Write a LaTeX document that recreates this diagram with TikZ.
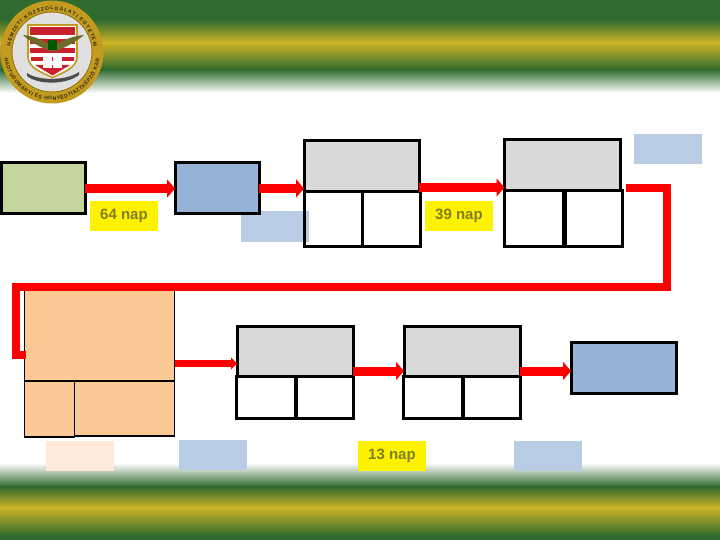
\documentclass[tikz,border=0pt]{standalone}
\usepackage{fontspec}
\setmainfont{Liberation Sans}
\usetikzlibrary{arrows.meta,decorations.text}
\definecolor{bandgreen}{HTML}{2F6A2E}
\definecolor{bandyellow}{HTML}{CDB526}
\definecolor{boxgreen}{HTML}{C3D69B}
\definecolor{boxblue}{HTML}{95B3D7}
\definecolor{boxgrey}{HTML}{D9D9D9}
\definecolor{boxorange}{HTML}{FCC995}
\definecolor{notebluepale}{HTML}{B8CCE4}
\definecolor{notepeach}{HTML}{FDEADA}
\definecolor{arrowred}{HTML}{FF0000}
\definecolor{daytext}{HTML}{808020}
\definecolor{logogold}{HTML}{C29A20}
\definecolor{logored}{HTML}{C8202C}
\definecolor{logoolive}{HTML}{6E6A28}
\tikzset{
  thickbox/.style={draw=black,line width=3pt,inner sep=0pt,outer sep=0pt},
  thinbox/.style={draw=black,line width=1.6pt,inner sep=0pt,outer sep=0pt,fill=boxorange},
  notebox/.style={inner sep=0pt,outer sep=0pt,minimum width=68pt,minimum height=30pt},
  daybox/.style={notebox,fill=yellow,text=daytext,font=\bfseries\fontsize{15}{16}\selectfont},
  flowarrow/.style={draw=arrowred,line width=9pt,-{Triangle[length=8pt,width=18pt]}},
  smallarrow/.style={draw=arrowred,line width=7pt,-{Triangle[length=6pt,width=12pt]}},
  routeline/.style={draw=arrowred,line width=8pt,miter limit=10},
  ringtext/.style={decorate,decoration={text along path,text align={fit to path},
     text={|\fontsize{5}{6}\bfseries\selectfont\color{black!75!logogold}|#1}}}
}
\begin{document}
\begin{tikzpicture}[x=1pt,y=-1pt]
\useasboundingbox (0,0) rectangle (720,540);
% bands
\shade[top color=bandgreen,bottom color=bandgreen] (0,0) rectangle (720,20);
\shade[top color=bandgreen,bottom color=bandyellow] (0,19.5) rectangle (720,43);
\shade[top color=bandyellow,bottom color=bandgreen] (0,42.5) rectangle (720,70);
\shade[top color=bandgreen,bottom color=white] (0,69.5) rectangle (720,93);
\shade[top color=white,bottom color=bandgreen] (0,463) rectangle (720,487);
\shade[top color=bandgreen,bottom color=bandyellow] (0,486.5) rectangle (720,508);
\shade[top color=bandyellow,bottom color=bandgreen] (0,507.5) rectangle (720,536);
\fill[bandgreen] (0,535.5) rectangle (720,540);
% logo
\fill[logogold] (52,52) circle[radius=51.5pt];
\fill[white!88!black] (52,52) circle[radius=39.5pt];
\draw[logogold!70!black,line width=.6pt] (52,52) circle[radius=40pt];
\filldraw[draw=logogold,fill=white,line width=1.6pt]
  (28,25) -- (77,25) -- (77,57) .. controls (77,68) and (62,73) .. (52.5,77.5)
  .. controls (43,73) and (28,68) .. (28,57) -- cycle;
\fill[logored] (30,27) rectangle (75,35);
\fill[logored] (30,39.5) rectangle (75,44);
\fill[logored] (30,48.5) rectangle (75,53);
\fill[logored] (31,57) rectangle (74,61);
\fill[logored] (35,65) -- (70,65) -- (52.5,75.5) -- cycle;
\fill[logoolive] (23,35) .. controls (35,36) and (45,41) .. (52,47)
  .. controls (60,41) and (72,36) .. (84,35) .. controls (76,42) and (66,47) .. (56,51)
  -- (50,51) .. controls (40,47) and (30,42) .. (23,35) -- cycle;
\fill[black!65!green] (48,40) rectangle (57,50);
\fill[white] (42.5,57) rectangle (52,68);
\fill[white] (53,57) rectangle (62,68);
\fill[black!70] (27,73) .. controls (38,81) and (66,81) .. (79,72) -- (79,75)
  .. controls (66,85) and (38,85) .. (27,76) -- cycle;
\path[ringtext={NEMZETI KÖZSZOLGÁLATI EGYETEM}]
  (52,52) ++(172:42pt) arc[start angle=172,end angle=8,radius=42pt];
\path[ringtext={HADTUDOMÁNYI ÉS HONVÉDTISZTKÉPZŐ KAR}]
  (52,52) ++(188:48pt) arc[start angle=188,end angle=352,radius=48pt];
% notes
\node[daybox] (d64) at (124,216) {\raisebox{-2pt}{64 nap}};
\node[daybox] (d39) at (459,216) {\raisebox{-2pt}{39 nap}};
\node[daybox] (d13) at (392,455.5) {\raisebox{-2pt}{13 nap}};
\node[notebox,fill=notebluepale] (nb) at (274.5,226.5) {};
\node[notebox,fill=notebluepale] (ntr) at (667.5,149.5) {};
\node[notebox,fill=notepeach] (npeach) at (80,455.5) {};
\node[notebox,fill=notebluepale] (nlow) at (213,455) {};
\node[notebox,fill=notebluepale] (nend) at (548,455.5) {};
% boxes
\node[thickbox,fill=boxgreen,minimum width=84pt,minimum height=51pt] (A) at (43,188.5) {};
\node[thickbox,fill=boxblue,minimum width=84pt,minimum height=51pt] (B) at (217,188.5) {};
\node[thickbox,fill=boxgrey,minimum width=115pt,minimum height=51pt] (Cg) at (361.5,166) {};
\node[thickbox,minimum width=58pt,minimum height=54pt] (Cl) at (333,219) {};
\node[thickbox,minimum width=58pt,minimum height=54pt] (Cr) at (391,219) {};
\node[thickbox,fill=boxgrey,minimum width=116pt,minimum height=51pt] (Dg) at (562.5,165.5) {};
\node[thickbox,minimum width=60pt,minimum height=55pt] (Dl) at (534,218.5) {};
\node[thickbox,minimum width=58pt,minimum height=55pt] (Dr) at (593,218.5) {};
\draw[black,line width=5pt] (Dl.north east) -- (Dl.south east);
\node[thinbox,minimum width=150pt,minimum height=91pt] (O) at (99.5,335.5) {};
\node[thinbox,minimum width=50pt,minimum height=56pt] (Ol) at (49.5,409) {};
\node[thinbox,minimum width=100pt,minimum height=55pt] (Or) at (124.5,408.5) {};
\node[thickbox,fill=boxgrey,minimum width=116pt,minimum height=50pt] (Eg) at (295,351) {};
\node[thickbox,minimum width=59pt,minimum height=42pt] (El) at (266,397) {};
\node[thickbox,minimum width=57pt,minimum height=42pt] (Er) at (324.5,397) {};
\node[thickbox,fill=boxgrey,minimum width=116pt,minimum height=50pt] (Fg) at (462,351) {};
\node[thickbox,minimum width=59pt,minimum height=42pt] (Fl) at (433,397) {};
\node[thickbox,minimum width=57pt,minimum height=42pt] (Fr) at (491.5,397) {};
\node[thickbox,fill=boxblue,minimum width=105pt,minimum height=51pt] (G) at (623.5,367.5) {};
% connectors
\coordinate (cdy) at (0,187.5);
\coordinate (oey) at (0,363.5);
\coordinate (efy) at (0,371);
\draw[flowarrow] (A.east) -- (B.west);
\draw[flowarrow] (B.east) -- (B.east -| Cg.west);
\draw[flowarrow] (Cg.east |- cdy) -- (Dg.west |- cdy);
\draw[smallarrow] (O.east |- oey) -- (Eg.west |- oey);
\draw[flowarrow] (Eg.east |- efy) -- (Fg.west |- efy);
\draw[flowarrow] (Fg.east |- efy) -- (G.west |- efy);
\coordinate (rstart) at (626,188.5);
\coordinate (rc1) at (666.5,188.5);
\coordinate (rc2) at (666.5,286.5);
\coordinate (rc3) at (15.5,286.5);
\coordinate (rc4) at (15.5,354.5);
\coordinate (rend) at (26,354.5);
\draw[routeline] (rstart) -- (rc1) -- (rc2) -- (rc3) -- (rc4) -- (rend);
\end{tikzpicture}
\end{document}
